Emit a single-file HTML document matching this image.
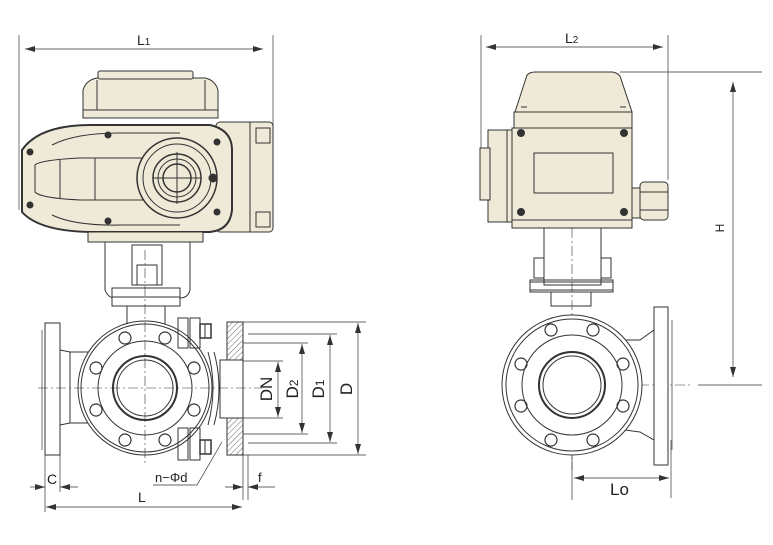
<!DOCTYPE html>
<html><head><meta charset="utf-8"><style>
html,body{margin:0;padding:0;background:#fff;}
svg{display:block}
text{font-family:"Liberation Sans",sans-serif;fill:#222}
</style></head><body>
<svg width="773" height="545" viewBox="0 0 773 545" xmlns="http://www.w3.org/2000/svg">
<defs>
<marker id="a" viewBox="0 0 10 6" refX="10" refY="3" markerWidth="10" markerHeight="6" orient="auto-start-reverse" markerUnits="userSpaceOnUse"><path d="M0,0 L10,3 L0,6 z" fill="#333"/></marker>
<pattern id="h" width="4" height="4" patternUnits="userSpaceOnUse" patternTransform="rotate(45)"><line x1="0" y1="0" x2="0" y2="4" stroke="#444" stroke-width="0.8"/></pattern>
</defs>
<g stroke="#333" stroke-width="1" fill="none">
<line x1="19" y1="35" x2="19" y2="210" stroke-width="0.7"/>
<line x1="273" y1="35" x2="273" y2="130" stroke-width="0.7"/>
<line x1="25" y1="49" x2="263" y2="49" stroke-width="0.7" marker-start="url(#a)" marker-end="url(#a)"/>
<path d="M83,118 L83,90 Q86,80 97,78 L205,78 Q215,80 218,90 L218,118 Z" fill="#efe9d8"/>
<rect x="98" y="71" width="95" height="8" rx="2" fill="#efe9d8"/>
<line x1="83" y1="110" x2="218" y2="110"/>
<line x1="97" y1="80" x2="97" y2="110"/>
<line x1="205" y1="80" x2="205" y2="110"/>
<rect x="216" y="122" width="57" height="110" rx="4" fill="#efe9d8"/>
<line x1="250" y1="122" x2="250" y2="232"/>
<rect x="256" y="128" width="14" height="15" fill="#efe9d8"/>
<rect x="256" y="212" width="14" height="15" fill="#efe9d8"/>
<path d="M22,150 Q40,124 95,125 L210,125 Q232,130 232,150 L232,210 Q230,230 210,232 L95,232 Q40,232 22,212 Z" fill="#efe9d8" stroke-width="2"/>
<path d="M35,165 Q40,160 80,158 L150,158 L150,200 L80,200 Q40,198 35,192 Z" fill="#efe9d8"/>
<line x1="60" y1="160" x2="60" y2="198"/>
<line x1="95" y1="158" x2="95" y2="200"/>
<path d="M52,145 Q75,133 120,133 L180,133" />
<path d="M52,215 Q75,226 120,225 L180,225" />
<circle cx="177" cy="178" r="40" fill="#efe9d8" stroke-width="1.5"/>
<circle cx="177" cy="178" r="34"/>
<circle cx="177" cy="178" r="24" stroke-width="1.5"/>
<circle cx="177" cy="178" r="19"/>
<circle cx="177" cy="178" r="14" stroke-width="1.5"/>
<line x1="153" y1="178" x2="201" y2="178"/>
<line x1="177" y1="152" x2="177" y2="204"/>
<g fill="#333"><circle cx="108" cy="135" r="3"/><circle cx="108" cy="221" r="3"/><circle cx="30" cy="152" r="3"/><circle cx="30" cy="205" r="3"/><circle cx="217" cy="142" r="3"/><circle cx="217" cy="212" r="3"/><circle cx="213" cy="178" r="4"/></g>
<rect x="88" y="232" width="115" height="10" fill="#efe9d8"/>
<path d="M105,242 L105,290 Q108,298 115,298 L180,298 Q188,298 190,290 L190,242"/>
<rect x="132" y="245" width="30" height="40"/>
<rect x="137" y="265" width="20" height="20" fill="#fff"/>
<rect x="112" y="288" width="68" height="18" fill="#fff"/>
<line x1="112" y1="297" x2="180" y2="297"/>
<rect x="127" y="306" width="38" height="18"/>
<rect x="45" y="323" width="15" height="132" fill="#fff"/>
<path d="M60,350 L70,352 L90,352 M60,425 L70,423 L90,423"/>
<line x1="70" y1="352" x2="70" y2="423"/>
<line x1="42" y1="330" x2="42" y2="450" stroke-width="0.7"/>
<circle cx="145" cy="388" r="67" fill="#fff"/>
<circle cx="145" cy="388" r="64"/>
<circle cx="145" cy="388" r="47"/>
<circle cx="145" cy="388" r="32" stroke-width="2"/>
<circle cx="145" cy="388" r="28"/>
<g stroke-width="1.2"><circle cx="125" cy="338" r="6"/><circle cx="165" cy="338" r="6"/><circle cx="96" cy="368" r="6"/><circle cx="194" cy="368" r="6"/><circle cx="96" cy="410" r="6"/><circle cx="194" cy="410" r="6"/><circle cx="125" cy="440" r="6"/><circle cx="165" cy="440" r="6"/></g>
<rect x="178" y="318" width="10" height="30"/><rect x="190" y="318" width="10" height="30"/>
<rect x="178" y="428" width="10" height="32"/><rect x="190" y="428" width="10" height="32"/>
<rect x="200" y="324" width="11" height="14" stroke-width="1.5"/><line x1="205" y1="324" x2="205" y2="338"/>
<rect x="200" y="440" width="11" height="14" stroke-width="1.5"/><line x1="205" y1="440" x2="205" y2="454"/>
<path d="M208,352 Q218,388 208,425 M214,352 Q224,388 214,425"/>
<rect x="220" y="360" width="23" height="58"/>
<rect x="227" y="322" width="16" height="38" fill="url(#h)"/>
<rect x="227" y="418" width="16" height="37" fill="url(#h)"/>
<line x1="243" y1="322" x2="243" y2="500" stroke-width="0.7"/>
<g stroke-width="0.6" stroke-dasharray="10,3,2,3"><line x1="38" y1="388" x2="262" y2="388"/><line x1="145" y1="250" x2="145" y2="465"/><line x1="567" y1="385" x2="690" y2="385"/><line x1="572" y1="210" x2="572" y2="470"/></g>
<g stroke-width="0.7">
<line x1="243" y1="322" x2="366" y2="322"/><line x1="243" y1="455" x2="366" y2="455"/>
<line x1="248" y1="334" x2="337" y2="334"/><line x1="248" y1="443" x2="337" y2="443"/>
<line x1="243" y1="343" x2="308" y2="343"/><line x1="243" y1="434" x2="308" y2="434"/>
<line x1="243" y1="361" x2="283" y2="361"/><line x1="243" y1="418" x2="283" y2="418"/>
<line x1="358" y1="323" x2="358" y2="454" marker-start="url(#a)" marker-end="url(#a)"/>
<line x1="330" y1="335" x2="330" y2="442" marker-start="url(#a)" marker-end="url(#a)"/>
<line x1="302" y1="344" x2="302" y2="433" marker-start="url(#a)" marker-end="url(#a)"/>
<line x1="278" y1="362" x2="278" y2="417" marker-start="url(#a)" marker-end="url(#a)"/>
<line x1="45" y1="455" x2="45" y2="512"/><line x1="60" y1="455" x2="60" y2="492"/>
<line x1="30" y1="487" x2="45" y2="487" marker-end="url(#a)"/><line x1="78" y1="487" x2="60" y2="487" marker-end="url(#a)"/>
<line x1="46" y1="507" x2="242" y2="507" marker-start="url(#a)" marker-end="url(#a)"/>
<line x1="248" y1="455" x2="248" y2="500"/>
<line x1="225" y1="487" x2="243" y2="487" marker-end="url(#a)"/><line x1="275" y1="487" x2="248" y2="487" marker-end="url(#a)"/>
<path d="M153,485 L197,485 L222,442"/>
</g>
<g stroke-width="0.7">
<line x1="481" y1="35" x2="481" y2="200"/><line x1="668" y1="35" x2="668" y2="180"/>
<line x1="486" y1="47" x2="663" y2="47" marker-start="url(#a)" marker-end="url(#a)"/>
<line x1="620" y1="72" x2="762" y2="72"/><line x1="698" y1="385" x2="762" y2="385"/>
<line x1="733" y1="82" x2="733" y2="377" marker-start="url(#a)" marker-end="url(#a)"/>
<line x1="572" y1="440" x2="572" y2="500"/><line x1="671" y1="440" x2="671" y2="498"/>
<line x1="574" y1="478" x2="669" y2="478" marker-start="url(#a)" marker-end="url(#a)"/>
</g>
<path d="M515,112 L527,75 Q530,72 535,72 L612,72 Q616,72 620,76 L632,112 Z" fill="#efe9d8"/>
<line x1="521" y1="107" x2="527" y2="107"/><line x1="620" y1="107" x2="626" y2="107"/>
<rect x="514" y="112" width="118" height="16" fill="#efe9d8"/>
<rect x="488" y="130" width="24" height="92" fill="#efe9d8"/>
<rect x="480" y="148" width="10" height="52" fill="#efe9d8"/>
<line x1="507" y1="130" x2="507" y2="222"/>
<rect x="512" y="128" width="120" height="100" fill="#efe9d8"/>
<line x1="512" y1="220" x2="632" y2="220"/>
<rect x="534" y="153" width="79" height="40" fill="#efe9d8"/>
<g fill="#333"><circle cx="521" cy="133" r="3.5"/><circle cx="624" cy="133" r="3.5"/><circle cx="521" cy="212" r="3.5"/><circle cx="624" cy="212" r="3.5"/></g>
<rect x="632" y="188" width="8" height="30" fill="#efe9d8"/>
<rect x="640" y="182" width="28" height="38" rx="4" fill="#efe9d8"/>
<line x1="640" y1="192" x2="668" y2="192"/><line x1="640" y1="210" x2="668" y2="210"/>
<rect x="544" y="228" width="57" height="57"/>
<rect x="534" y="258" width="10" height="20"/><rect x="601" y="258" width="10" height="20"/>
<rect x="530" y="280" width="83" height="12"/>
<rect x="530" y="282" width="83" height="8" fill="none"/>
<rect x="551" y="292" width="40" height="14"/>
<path d="M625,340 L640,340 L654,330 L654,440 L640,432 L625,430"/>
<rect x="654" y="307" width="14" height="158" fill="#fff"/>
<line x1="672" y1="320" x2="672" y2="450" stroke-width="0.7"/>
<circle cx="572" cy="385" r="70" fill="#fff"/>
<circle cx="572" cy="385" r="66"/>
<circle cx="572" cy="385" r="50"/>
<circle cx="572" cy="385" r="33" stroke-width="2"/>
<circle cx="572" cy="385" r="29"/>
<g stroke-width="1.2"><circle cx="551" cy="330" r="6"/><circle cx="593" cy="330" r="6"/><circle cx="521" cy="364" r="6"/><circle cx="623" cy="364" r="6"/><circle cx="521" cy="406" r="6"/><circle cx="623" cy="406" r="6"/><circle cx="551" cy="440" r="6"/><circle cx="593" cy="440" r="6"/></g>
</g>
<g font-size="14">
<text x="137" y="45">L<tspan font-size="10">1</tspan></text>
<text x="565" y="43">L<tspan font-size="10">2</tspan></text>
<text x="610" y="495" font-size="17">Lo</text>
<text x="47" y="484" font-size="14">C</text>
<text x="138" y="502" font-size="14">L</text>
<text x="258" y="482" font-size="13">f</text>
<text x="155" y="482" font-size="13">n−Φd</text>
<text transform="translate(724,228) rotate(-90)" font-size="12" text-anchor="middle">H</text>
<text transform="translate(272,389) rotate(-90)" font-size="17" text-anchor="middle">DN</text>
<text transform="translate(298,389) rotate(-90)" font-size="17" text-anchor="middle">D<tspan font-size="12">2</tspan></text>
<text transform="translate(324,389) rotate(-90)" font-size="17" text-anchor="middle">D<tspan font-size="12">1</tspan></text>
<text transform="translate(352,389) rotate(-90)" font-size="17" text-anchor="middle">D</text>
</g>
</svg>
</body></html>
